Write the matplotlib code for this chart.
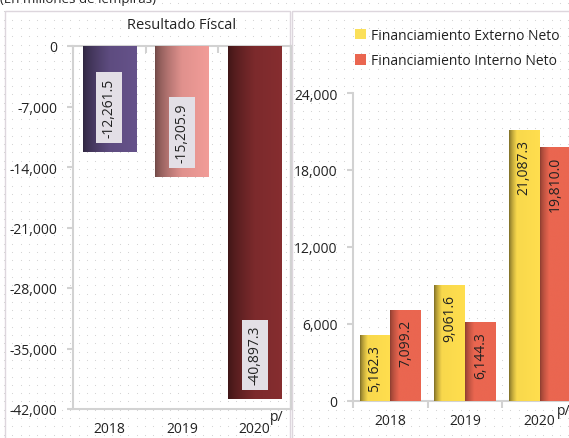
import numpy as np
import matplotlib
matplotlib.use("Agg")
import matplotlib.pyplot as plt
from matplotlib.colors import to_rgb
from matplotlib.patches import Rectangle
from matplotlib.ticker import FuncFormatter

years = ["2018", "2019", "2020"]
resultado = [-12261.5, -15205.9, -40897.3]
externo = [5162.3, 9061.6, 21087.3]
interno = [7099.2, 6144.3, 19810.0]

plt.rcParams["font.family"] = ["Open Sans", "DejaVu Sans"]
plt.rcParams["font.size"] = 9

W, H = 569, 439
fig = plt.figure(figsize=(W / 100, H / 100), dpi=100)
fig.patch.set_facecolor("white")

# dotted background pattern
gx, gy = np.meshgrid(np.arange(4, W, 8.3), np.arange(4, H, 8.3))
bg = fig.add_axes([0, 0, 1, 1], zorder=-5)
bg.scatter(gx.ravel(), gy.ravel(), s=0.6, color="#cfcfcf", linewidths=0)
bg.set_xlim(0, W)
bg.set_ylim(H, 0)
bg.axis("off")
# panel frames
for x0, x1 in [(5, 290), (292, 575)]:
    bg.add_patch(Rectangle((x0, 12), x1 - x0, 440, fill=False, edgecolor="#ddd6dd", lw=1))
bg.text(0, -1, "(En millones de lempiras)", va="center", ha="left", fontsize=9.5, color="#222222")


def px(x0, y_top, x1, y_bot):
    return [x0 / W, 1 - y_bot / H, (x1 - x0) / W, (y_bot - y_top) / H]


def shade_bar(ax, bar, color, dark=0.45, ramp=0.45, light=1.08):
    base = np.array(to_rgb(color))
    t = np.linspace(0, 1, 64)
    f = dark + (1 - dark) * np.clip(t / ramp, 0, 1) ** 0.7
    f = f * (1 + (light - 1) * np.clip((t - ramp) / (1 - ramp), 0, 1))
    img = np.clip(base[None, :] * f[:, None], 0, 1)[None, :, :]
    x = bar.get_x()
    y = bar.get_y()
    im = ax.imshow(img, extent=[x, x + bar.get_width(), y, y + bar.get_height()],
                   aspect="auto", zorder=3, interpolation="bilinear")
    im.set_clip_path(bar)


fmt = FuncFormatter(lambda v, p: f"{v:,.0f}")
spine_c = "#d2d2d2"
txt_c = "#222222"

# ---- left: Resultado Fiscal ----
ax1 = fig.add_axes(px(73, 47, 291, 410))
ax1.set_facecolor("none")
left_colors = ["#5e4c80", "#e0918d", "#7c2a2c"]
bars1 = ax1.bar(range(3), resultado, width=0.73, color=left_colors, zorder=2)
for b, c in zip(bars1, left_colors):
    shade_bar(ax1, b, c, dark=0.5, ramp=0.5)
for b, v in zip(bars1, resultado):
    ax1.annotate(f"{v:,.1f}", (b.get_x() + b.get_width() / 2, v),
                 xytext=(0, 15), textcoords="offset pixels", rotation=90,
                 ha="center", va="bottom", fontsize=10, color=txt_c, zorder=5,
                 bbox=dict(boxstyle="square,pad=0.4", fc="#e3dfe6", ec="none"))
ax1.set_xlim(-0.5, 2.5)
ax1.set_ylim(-42000, 0)
ax1.set_yticks(np.arange(-42000, 1, 7000))
ax1.yaxis.set_major_formatter(fmt)
ax1.set_xticks(range(3), years)
ax1.set_xticks([-0.5, 0.5, 1.5, 2.5], minor=True)
ax1.tick_params(axis="x", which="major", length=0, pad=9, labelsize=10, labelcolor=txt_c)
ax1.tick_params(axis="x", which="minor", bottom=False, top=True, direction="in",
                length=5, color=spine_c, width=1.5)
ax1.tick_params(axis="y", length=4, color=spine_c, width=1.5, pad=7, labelsize=10, labelcolor=txt_c)
for s in ax1.spines.values():
    s.set_color(spine_c)
    s.set_linewidth(1.5)
ax1.annotate("p/", (2, 0), xycoords=ax1.get_xaxis_transform(), xytext=(15, -8),
             textcoords="offset pixels", ha="left", va="center", fontsize=10, color=txt_c)
ax1.text(0.5, 1.06, "Resultado Físcal", transform=ax1.transAxes, ha="center",
         va="center", fontsize=10.5, color=txt_c)

# ---- right: Financiamiento ----
ax2 = fig.add_axes(px(353, 94, 577, 402))
ax2.set_facecolor("none")
x = np.arange(3)
w = 0.41
bars_e = ax2.bar(x - w / 2, externo, width=w, color="#f8d84c", zorder=2,
                 label="Financiamiento Externo Neto")
bars_i = ax2.bar(x + w / 2, interno, width=w, color="#ea6650", zorder=2,
                 label="Financiamiento Interno Neto")
for b in bars_e:
    shade_bar(ax2, b, "#f8d84c", dark=0.5, ramp=0.25, light=1.03)
for b in bars_i:
    shade_bar(ax2, b, "#ea6650", dark=0.6, ramp=0.3, light=1.0)
for b, v in list(zip(bars_e, externo)) + list(zip(bars_i, interno)):
    ax2.annotate(f"{v:,.1f}", (b.get_x() + b.get_width() / 2, v),
                 xytext=(0, -9), textcoords="offset pixels", rotation=90,
                 ha="center", va="top", fontsize=10, color=txt_c, zorder=5)
ax2.set_xlim(-0.5, 2.5)
ax2.set_ylim(0, 24000)
ax2.set_yticks(np.arange(0, 24001, 6000))
ax2.yaxis.set_major_formatter(fmt)
ax2.set_xticks(range(3), years)
ax2.set_xticks([-0.5, 0.5, 1.5, 2.5], minor=True)
ax2.tick_params(axis="x", which="major", length=0, pad=9, labelsize=10, labelcolor=txt_c)
ax2.tick_params(axis="x", which="minor", direction="out", length=5, color=spine_c, width=1.5)
ax2.tick_params(axis="y", length=4, color=spine_c, width=1.5, pad=7, labelsize=10, labelcolor=txt_c)
for k in ["top", "right"]:
    ax2.spines[k].set_visible(False)
for k in ["left", "bottom"]:
    ax2.spines[k].set_color(spine_c)
    ax2.spines[k].set_linewidth(1.5)
ax2.annotate("p/", (2, 0), xycoords=ax2.get_xaxis_transform(), xytext=(17, -10),
             textcoords="offset pixels", ha="left", va="center", fontsize=10, color=txt_c)

h = [Rectangle((0, 0), 1, 1, fc="#fbe05a"), Rectangle((0, 0), 1, 1, fc="#ea6650")]
fig.legend(h, ["Financiamiento Externo Neto", "Financiamiento Interno Neto"],
           loc="upper left", bbox_to_anchor=(348 / W, 1 - 22 / H), frameon=False,
           fontsize=10, handlelength=0.8, handleheight=0.8, handletextpad=0.35,
           labelspacing=0.75, borderpad=0, labelcolor=txt_c)

fig.savefig("out.png", dpi=100)
